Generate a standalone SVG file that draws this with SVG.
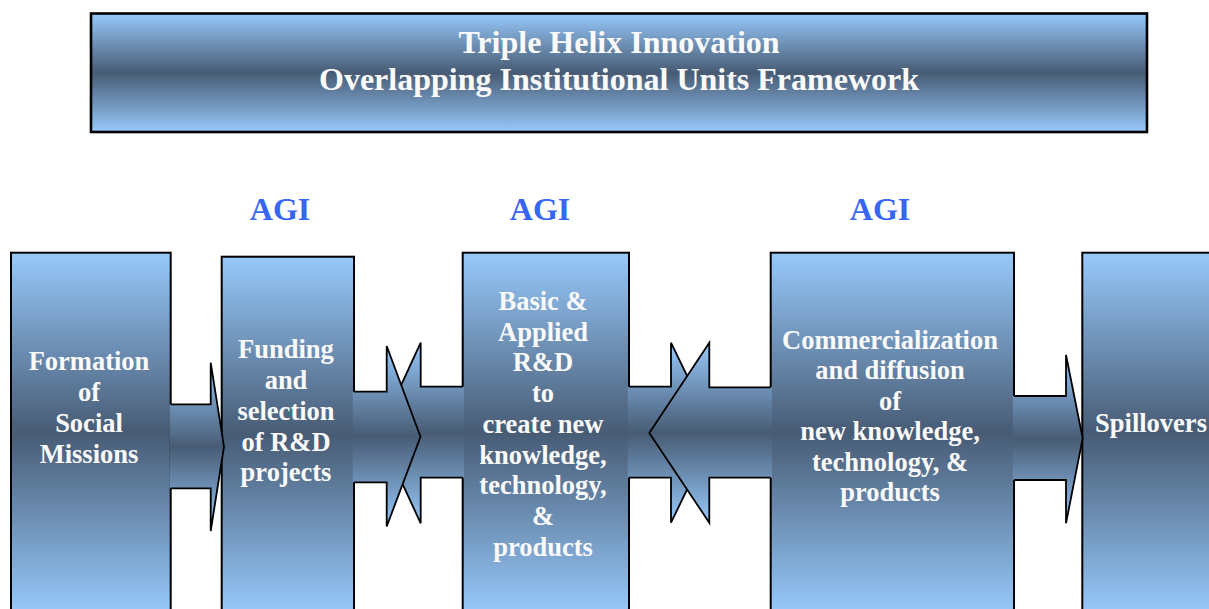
<svg xmlns="http://www.w3.org/2000/svg" width="1209" height="609" viewBox="0 0 1209 609">
  <defs>
    <!-- light blue -> slate -> light blue, top to bottom -->
    <linearGradient id="band" x1="0" y1="0" x2="0" y2="1">
      <stop offset="0" stop-color="#97C9FB"/>
      <stop offset="0.5" stop-color="#475B74"/>
      <stop offset="1" stop-color="#97C9FB"/>
    </linearGradient>
    <style>
      .box { fill: url(#band); stroke: #000; stroke-width: 2; }
      .title-box { fill: url(#band); stroke: #000; stroke-width: 2.6; }
      .arrow-fill { fill: url(#band); stroke: none; }
      .arrow-line { fill: none; stroke: #000; stroke-width: 1.8; stroke-linejoin: miter; }
      .t { font-family: "Liberation Serif", "Times New Roman", serif; font-weight: bold; fill: #FAFAFA; text-anchor: middle; }
      .title { font-size: 32px; }
      .label { font-size: 26.5px; }
      .agi { font-family: "Liberation Serif", "Times New Roman", serif; font-weight: bold; font-size: 32px; fill: #3767F2; text-anchor: middle; }
    </style>
  </defs>

  <rect width="1209" height="609" fill="#FFFFFF"/>

  <!-- heading -->
  <g id="title">
    <rect class="title-box" x="91" y="13.5" width="1056" height="118.5"/>
    <text class="t title" x="619" y="52.5">Triple Helix Innovation</text>
    <text class="t title" x="619" y="90">Overlapping Institutional Units Framework</text>
  </g>

  <!-- agency labels above the stages -->
  <g id="agi-labels">
    <text class="agi" x="280" y="220">AGI</text>
    <text class="agi" x="540" y="220">AGI</text>
    <text class="agi" x="880" y="220">AGI</text>
  </g>

  <!-- stage boxes (run past the lower edge) -->
  <g id="social-missions">
    <rect class="box" x="11" y="252.7" width="159.7" height="360"/>
    <text class="t label" x="89" y="370">Formation</text>
    <text class="t label" x="89" y="401">of</text>
    <text class="t label" x="89" y="432">Social</text>
    <text class="t label" x="89" y="463">Missions</text>
  </g>

  <g id="funding">
    <rect class="box" x="221.7" y="256.7" width="132.3" height="356"/>
    <text class="t label" x="286" y="358">Funding</text>
    <text class="t label" x="286" y="389">and</text>
    <text class="t label" x="286" y="420">selection</text>
    <text class="t label" x="286" y="450.5">of R&amp;D</text>
    <text class="t label" x="286" y="481">projects</text>
  </g>

  <g id="basic-applied-rd">
    <rect class="box" x="462.7" y="252.7" width="166.3" height="360"/>
    <text class="t label" x="543" y="310">Basic &amp;</text>
    <text class="t label" x="543" y="340.7">Applied</text>
    <text class="t label" x="543" y="371.4">R&amp;D</text>
    <text class="t label" x="543" y="402.1">to</text>
    <text class="t label" x="543" y="432.8">create new</text>
    <text class="t label" x="543" y="463.5">knowledge,</text>
    <text class="t label" x="543" y="494.2">technology,</text>
    <text class="t label" x="543" y="524.9">&amp;</text>
    <text class="t label" x="543" y="555.6">products</text>
  </g>

  <g id="commercialization">
    <rect class="box" x="770.7" y="252.7" width="243.3" height="360"/>
    <text class="t label" x="890" y="348.5">Commercialization</text>
    <text class="t label" x="890" y="379">and diffusion</text>
    <text class="t label" x="890" y="409.5">of</text>
    <text class="t label" x="890" y="440">new knowledge,</text>
    <text class="t label" x="890" y="470.5">technology, &amp;</text>
    <text class="t label" x="890" y="501">products</text>
  </g>

  <g id="spillovers">
    <rect class="box" x="1082.3" y="252.7" width="160" height="360"/>
    <text class="t label" x="1151" y="431.5">Spillovers</text>
  </g>

  <!-- block arrows between stages; back ends left open so they merge with the boxes -->
  <g id="connectors">
    <!-- missions -> funding -->
    <g id="arrow-missions-funding">
      <polygon class="arrow-fill" points="169.5,404.3 210.7,404.3 210.7,362.7 224,446.7 210.7,531 210.7,488.3 169.5,488.3"/>
      <polyline class="arrow-line" points="170.7,404.3 210.7,404.3 210.7,362.7 224,446.7 210.7,531 210.7,488.3 170.7,488.3"/>
    </g>
    <!-- basic R&D -> funding (behind) -->
    <g id="arrow-rd-funding">
      <polygon class="arrow-fill" points="464,386.7 420.7,386.7 420.7,342.7 379,433 420.7,523.3 420.7,477.7 464,477.7"/>
      <polyline class="arrow-line" points="462.7,386.7 420.7,386.7 420.7,342.7 379,433 420.7,523.3 420.7,477.7 462.7,477.7"/>
    </g>
    <!-- funding -> basic R&D -->
    <g id="arrow-funding-rd">
      <polygon class="arrow-fill" points="352.8,391.7 386.7,391.7 386.7,346 420.5,436.7 386.7,526.5 386.7,482.3 352.8,482.3"/>
      <polyline class="arrow-line" points="354,391.7 386.7,391.7 386.7,346 420.5,436.7 386.7,526.5 386.7,482.3 354,482.3"/>
    </g>
    <!-- basic R&D -> commercialization (behind) -->
    <g id="arrow-rd-commercial">
      <polygon class="arrow-fill" points="627.8,386.7 671,386.7 671,342.7 714.7,432.7 671,522.7 671,477.7 627.8,477.7"/>
      <polyline class="arrow-line" points="629,386.7 671,386.7 671,342.7 714.7,432.7 671,522.7 671,477.7 629,477.7"/>
    </g>
    <!-- commercialization -> basic R&D -->
    <g id="arrow-commercial-rd">
      <polygon class="arrow-fill" points="772,387.3 709.3,387.3 709.3,342.7 649.3,433 709.3,522.7 709.3,477.7 772,477.7"/>
      <polyline class="arrow-line" points="770.7,387.3 709.3,387.3 709.3,342.7 649.3,433 709.3,522.7 709.3,477.7 770.7,477.7"/>
    </g>
    <!-- commercialization -> spillovers -->
    <g id="arrow-commercial-spillovers">
      <polygon class="arrow-fill" points="1012.8,396 1066,396 1066,355 1082.7,438.3 1066,523.3 1066,480 1012.8,480"/>
      <polyline class="arrow-line" points="1014,396 1066,396 1066,355 1082.7,438.3 1066,523.3 1066,480 1014,480"/>
    </g>
  </g>
</svg>
